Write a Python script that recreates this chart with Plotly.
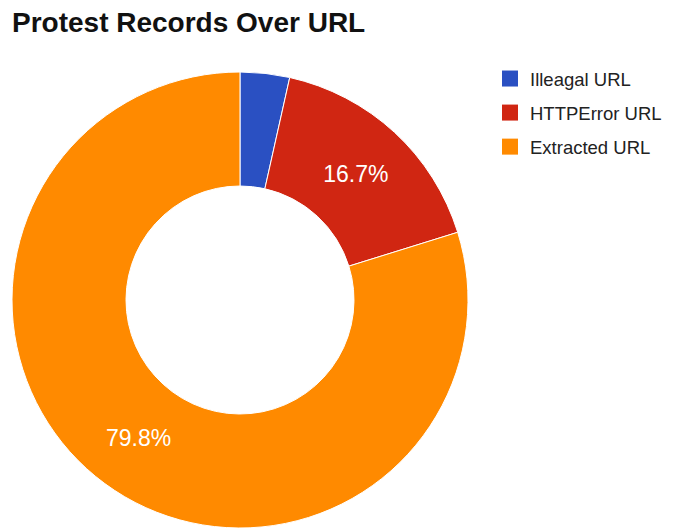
import plotly.graph_objects as go

labels = ["Illeagal URL", "HTTPError URL", "Extracted URL"]
values = [3.5, 16.7, 79.8]
colors = ["#2a50c2", "#d02612", "#ff8a00"]
texts = ["", "16.7%", "79.8%"]

W, H = 676, 529
ml, mr, mt, mb = 4, 0, 64, 9
pw = W - ml - mr
ph = H - mt - mb

fig = go.Figure()
fig.add_trace(go.Pie(
    labels=labels, values=values, hole=0.5, sort=False, direction="clockwise",
    rotation=0, marker=dict(colors=colors, line=dict(color="white", width=1)),
    text=texts, textinfo="text", textposition="inside",
    insidetextorientation="horizontal",
    textfont=dict(color="white", size=23, family="Liberation Sans, Arial"),
    domain=dict(x=[0, ph / pw], y=[0, 1]),
    showlegend=False,
))

for lab, col in zip(labels, colors):
    fig.add_trace(go.Scatter(
        x=[None], y=[None], mode="markers", name=lab, legendgroup=lab,
        marker=dict(symbol="square", size=20, color=col),
        showlegend=True,
    ))

fig.update_xaxes(visible=False)
fig.update_yaxes(visible=False)

fig.update_layout(
    width=W, height=H,
    margin=dict(l=ml, r=mr, t=mt, b=mb),
    paper_bgcolor="white", plot_bgcolor="rgba(0,0,0,0)",
    title=dict(text="<b>Protest Records Over URL</b>", x=4 / W, xanchor="left",
               y=1 - 14 / H, yanchor="middle",
               font=dict(family="Liberation Sans, Arial", size=28, color="#111")),
    legend=dict(x=(482 - ml) / pw, xanchor="left", y=1 + 12 / ph, yanchor="top",
                font=dict(family="Liberation Sans, Arial", size=18.5, color="#222"),
                tracegroupgap=7, itemwidth=30, itemsizing="trace",
                bgcolor="rgba(0,0,0,0)"),
)

fig.write_html("out.html")
